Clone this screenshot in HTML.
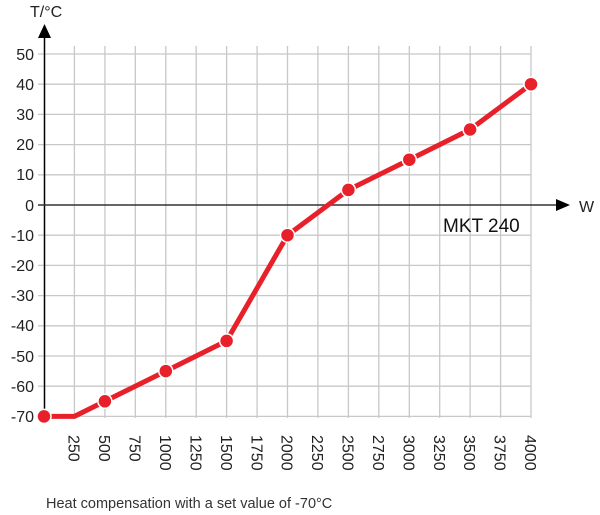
<!DOCTYPE html>
<html><head><style>
html,body{margin:0;padding:0;background:#fff;}
svg{display:block;font-family:"Liberation Sans",sans-serif;}
</style></head><body>
<svg width="600" height="515" viewBox="0 0 600 515">
<g stroke="#c8c8c8" stroke-width="1.3">
<line x1="74.4" y1="46" x2="74.4" y2="418"/><line x1="104.9" y1="46" x2="104.9" y2="418"/><line x1="135.3" y1="46" x2="135.3" y2="418"/><line x1="165.8" y1="46" x2="165.8" y2="418"/><line x1="196.2" y1="46" x2="196.2" y2="418"/><line x1="226.6" y1="46" x2="226.6" y2="418"/><line x1="257.1" y1="46" x2="257.1" y2="418"/><line x1="287.5" y1="46" x2="287.5" y2="418"/><line x1="317.9" y1="46" x2="317.9" y2="418"/><line x1="348.4" y1="46" x2="348.4" y2="418"/><line x1="378.8" y1="46" x2="378.8" y2="418"/><line x1="409.3" y1="46" x2="409.3" y2="418"/><line x1="439.7" y1="46" x2="439.7" y2="418"/><line x1="470.1" y1="46" x2="470.1" y2="418"/><line x1="500.6" y1="46" x2="500.6" y2="418"/><line x1="531" y1="46" x2="531" y2="418"/>
<line x1="38" y1="54" x2="531" y2="54"/><line x1="38" y1="84.2" x2="531" y2="84.2"/><line x1="38" y1="114.4" x2="531" y2="114.4"/><line x1="38" y1="144.6" x2="531" y2="144.6"/><line x1="38" y1="174.8" x2="531" y2="174.8"/><line x1="38" y1="235.2" x2="531" y2="235.2"/><line x1="38" y1="265.4" x2="531" y2="265.4"/><line x1="38" y1="295.6" x2="531" y2="295.6"/><line x1="38" y1="325.8" x2="531" y2="325.8"/><line x1="38" y1="356" x2="531" y2="356"/><line x1="38" y1="386.2" x2="531" y2="386.2"/><line x1="38" y1="416.4" x2="531" y2="416.4"/>
</g>
<line x1="44.5" y1="36" x2="44.5" y2="418" stroke="#000" stroke-width="1.5"/>
<polygon points="44.5,24 38,38 51,38" fill="#000"/>
<line x1="38" y1="205" x2="558" y2="205" stroke="#333" stroke-width="1.5"/>
<polygon points="570,205 556,199 556,211" fill="#000"/>
<text x="579" y="212" font-size="16" fill="#222">W</text>
<text x="30" y="17" font-size="16" fill="#222">T/°C</text>
<g font-size="16" fill="#222" text-anchor="end">
<text x="34" y="60">50</text><text x="34" y="90">40</text><text x="34" y="120">30</text><text x="34" y="150">20</text><text x="34" y="180">10</text><text x="34" y="211">0</text><text x="34" y="241">-10</text><text x="34" y="271">-20</text><text x="34" y="301">-30</text><text x="34" y="331">-40</text><text x="34" y="362">-50</text><text x="34" y="392">-60</text><text x="34" y="422">-70</text>
</g>
<g font-size="16" fill="#222">
<text transform="translate(68.5,435) rotate(90)">250</text><text transform="translate(99,435) rotate(90)">500</text><text transform="translate(129.5,435) rotate(90)">750</text><text transform="translate(160,435) rotate(90)">1000</text><text transform="translate(190.5,435) rotate(90)">1250</text><text transform="translate(221,435) rotate(90)">1500</text><text transform="translate(251.5,435) rotate(90)">1750</text><text transform="translate(281.5,435) rotate(90)">2000</text><text transform="translate(312,435) rotate(90)">2250</text><text transform="translate(342.5,435) rotate(90)">2500</text><text transform="translate(373,435) rotate(90)">2750</text><text transform="translate(403.5,435) rotate(90)">3000</text><text transform="translate(434,435) rotate(90)">3250</text><text transform="translate(464,435) rotate(90)">3500</text><text transform="translate(494.5,435) rotate(90)">3750</text><text transform="translate(525,435) rotate(90)">4000</text>
</g>
<text x="443" y="232" font-size="19" fill="#111">MKT 240</text>
<text x="46" y="508" font-size="14.5" fill="#333">Heat compensation with a set value of -70°C</text>
<polyline points="44,416.4 74.4,416.4 104.9,401.3 165.8,371.1 226.6,340.9 287.5,235.2 348.4,189.9 409.3,159.7 470.1,129.5 531,84.2" fill="none" stroke="#e8202a" stroke-width="5" stroke-linejoin="round"/>
<g fill="#e8202a" stroke="#fff" stroke-width="1.5">
<circle cx="44" cy="416.4" r="7"/><circle cx="104.9" cy="401.3" r="7"/><circle cx="165.8" cy="371.1" r="7"/><circle cx="226.6" cy="340.9" r="7"/><circle cx="287.5" cy="235.2" r="7"/><circle cx="348.4" cy="189.9" r="7"/><circle cx="409.3" cy="159.7" r="7"/><circle cx="470.1" cy="129.5" r="7"/><circle cx="531" cy="84.2" r="7"/>
</g>
</svg>
</body></html>
